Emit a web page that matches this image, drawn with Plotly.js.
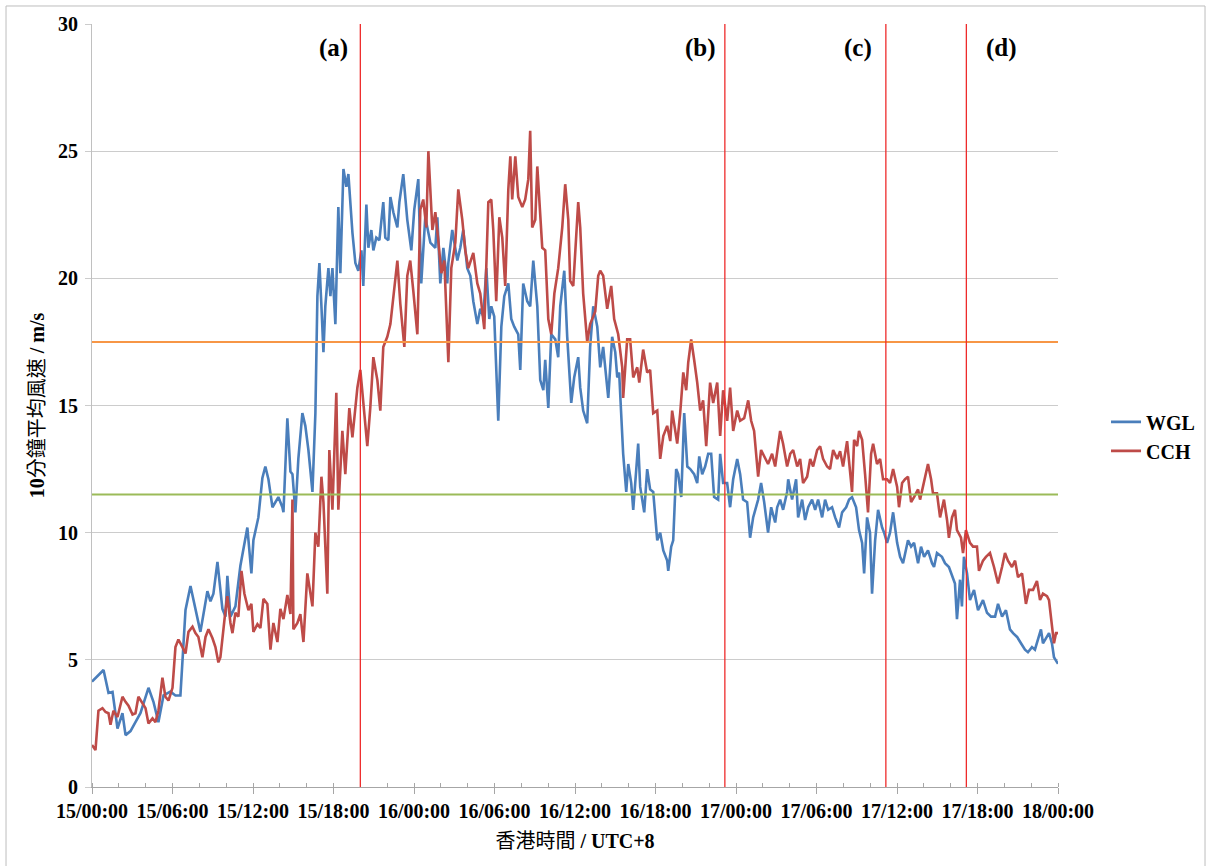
<!DOCTYPE html>
<html>
<head>
<meta charset="utf-8">
<script src="https://cdn.plot.ly/plotly-3.0.1.min.js"></script>
<style>
html,body{margin:0;padding:0;background:#fff;}
#chart{width:1207px;height:866px;}
</style>
</head>
<body>
<div id="chart"></div>
<script>
// Hours since 15/00:00 (HKT) and 10-min mean wind speed (m/s)
const wglHours = [0,0.86,1.23,1.53,1.90,2.27,2.50,2.87,3.24,3.61,4.21,4.58,4.95,5.33,5.85,6.22,6.59,6.82,6.97,7.34,7.71,8.08,8.31,8.60,8.83,9.05,9.35,9.72,9.95,10.09,10.32,10.69,11.06,11.29,11.58,11.88,12.03,12.40,12.70,12.92,13.15,13.45,13.67,13.89,14.19,14.27,14.56,14.79,14.94,15.16,15.38,15.68,15.90,16.13,16.43,16.65,16.80,16.95,17.10,17.25,17.39,17.62,17.77,17.92,18.14,18.36,18.51,18.74,18.96,19.11,19.41,19.63,19.85,20.08,20.22,20.45,20.60,20.82,20.97,21.19,21.42,21.71,21.86,22.09,22.24,22.46,22.76,22.91,23.20,23.50,23.80,24.02,24.32,24.54,24.84,25.22,25.59,25.74,25.96,26.19,26.48,26.56,26.85,27.23,27.45,27.67,27.97,28.20,28.42,28.72,28.94,29.17,29.39,29.61,29.76,29.98,30.28,30.51,30.73,31.03,31.25,31.47,31.77,31.92,32.14,32.44,32.66,32.89,33.19,33.41,33.64,33.78,34.01,34.23,34.53,34.75,34.90,35.20,35.42,35.72,35.94,36.24,36.39,36.61,36.91,37.13,37.36,37.66,37.88,38.10,38.48,38.77,39.00,39.15,39.29,39.59,39.82,39.97,40.19,40.34,40.71,40.86,41.16,41.38,41.60,41.83,42.13,42.35,42.58,42.87,42.95,43.17,43.32,43.54,43.69,43.92,44.14,44.37,44.59,44.88,45.11,45.26,45.48,45.70,45.93,46.15,46.37,46.67,46.82,47.04,47.34,47.56,47.79,48.09,48.31,48.53,48.83,49.05,49.28,49.65,49.87,50.10,50.39,50.62,50.92,51.07,51.29,51.51,51.81,51.89,52.18,52.48,52.63,52.93,53.15,53.38,53.67,53.90,54.12,54.42,54.64,54.87,55.16,55.39,55.68,55.91,56.21,56.43,56.65,56.95,57.17,57.40,57.55,57.77,57.99,58.14,58.37,58.59,58.89,59.04,59.26,59.48,59.71,60.01,60.23,60.45,60.82,61.05,61.27,61.57,61.79,62.02,62.31,62.61,62.76,62.98,63.35,63.58,63.87,64.17,64.32,64.47,64.70,64.84,64.99,65.22,65.44,65.74,66.04,66.41,66.71,67.01,67.31,67.53,67.83,68.12,68.42,68.65,68.95,69.24,69.54,69.76,70.06,70.28,70.51,70.73,70.88,71.18,71.33,71.55,71.70,71.93,72.00];
const wglSpeed = [4.14,4.6,3.7,3.74,2.3,2.9,2.04,2.2,2.55,2.9,3.9,3.35,2.55,3.6,3.75,3.6,3.6,5.5,6.96,7.9,7.0,6.1,6.8,7.7,7.3,7.6,8.85,7.0,6.7,8.3,6.7,7.1,8.7,9.4,10.2,8.4,9.7,10.6,12.15,12.6,12.1,11.0,11.2,11.4,11.0,10.8,14.5,12.4,12.3,10.8,12.9,14.7,14.2,13.25,11.6,14.7,19.3,20.6,18.9,17.1,18.9,20.4,19.3,20.4,18.2,22.8,20.2,24.3,23.6,24.1,21.8,20.6,20.3,21.1,19.7,22.9,21.2,21.9,21.1,21.6,21.5,23.0,21.6,21.5,23.2,22.6,22.0,23.0,24.1,22.3,21.1,22.7,23.9,19.8,22.4,21.4,21.2,22.4,19.8,21.2,19.8,20.6,21.9,20.7,21.2,21.9,20.4,20.1,19.1,18.2,18.8,18.5,20.4,18.4,18.9,18.5,14.4,18.1,19.3,19.8,18.4,18.1,17.8,16.4,19.8,19.1,18.9,20.7,18.9,16.0,15.6,16.8,14.9,17.8,17.6,16.9,18.9,20.3,17.7,15.1,16.1,16.9,15.7,14.8,14.3,17.3,18.9,18.1,16.5,17.3,15.3,17.7,17.1,16.1,16.3,13.1,11.6,12.7,11.95,10.9,13.5,11.8,10.8,12.5,11.7,11.6,9.7,10.0,9.3,8.9,8.5,9.45,9.7,12.5,12.3,11.4,14.7,12.6,12.5,12.3,11.95,13.0,12.3,12.6,13.1,13.1,11.4,11.3,13.1,11.95,11.95,11.0,12.1,12.9,12.3,11.3,11.2,9.8,10.6,11.3,11.95,11.2,10.0,11.0,10.4,11.0,11.3,10.9,11.6,12.1,11.3,12.1,10.6,11.3,10.5,11.0,11.3,10.9,11.3,10.6,11.3,10.9,11.0,10.6,10.2,10.8,11.0,11.3,11.4,11.0,10.1,9.6,8.4,10.6,10.0,7.6,9.7,10.9,10.2,10.0,9.6,10.0,10.8,9.6,9.05,8.8,9.7,9.45,9.6,8.8,9.45,9.05,9.3,8.8,8.65,9.2,9.05,8.8,8.65,8.25,8.0,6.6,8.15,7.1,9.05,8.4,7.35,7.75,6.95,7.35,6.85,6.7,6.7,7.2,6.7,6.95,6.2,6.05,5.9,5.65,5.4,5.3,5.5,5.4,5.8,6.2,5.65,5.9,6.05,5.65,5.1,4.9,4.85];

const cchHours = [0,0.26,0.48,0.78,1.01,1.23,1.38,1.60,1.90,2.27,2.50,2.72,3.02,3.24,3.46,3.76,3.99,4.21,4.51,4.73,4.95,5.25,5.47,5.70,6.00,6.22,6.44,6.74,6.97,7.19,7.49,7.71,7.93,8.23,8.46,8.68,8.98,9.20,9.42,9.57,9.72,9.95,10.09,10.32,10.47,10.69,10.91,11.14,11.36,11.66,11.88,12.03,12.33,12.55,12.78,13.07,13.30,13.52,13.82,14.04,14.27,14.56,14.79,14.94,15.01,15.31,15.53,15.76,16.05,16.43,16.65,16.87,17.10,17.25,17.54,17.69,17.92,18.21,18.36,18.66,18.88,19.18,19.41,19.78,20.00,20.22,20.52,20.74,20.97,21.27,21.49,21.71,22.01,22.24,22.46,22.76,22.98,23.28,23.50,23.72,23.95,24.25,24.47,24.69,24.92,25.07,25.37,25.59,25.81,26.04,26.26,26.56,26.78,27.08,27.30,27.60,27.82,28.05,28.42,28.72,28.94,29.24,29.54,29.76,29.91,30.13,30.36,30.58,30.80,31.03,31.18,31.32,31.55,31.77,32.07,32.29,32.52,32.66,32.81,33.04,33.19,33.41,33.56,33.78,34.01,34.23,34.46,34.75,35.05,35.27,35.50,35.64,35.87,36.24,36.39,36.61,36.91,37.13,37.51,37.73,37.88,38.10,38.40,38.70,38.92,39.22,39.52,39.59,39.89,40.11,40.34,40.64,40.79,41.08,41.38,41.60,41.83,42.13,42.35,42.58,42.87,43.10,43.24,43.62,43.84,44.07,44.29,44.44,44.66,44.88,45.11,45.33,45.55,45.78,46.07,46.30,46.60,46.82,47.04,47.34,47.56,47.79,48.09,48.31,48.61,48.91,49.13,49.35,49.65,49.87,50.17,50.39,50.69,50.92,51.29,51.51,51.81,52.04,52.26,52.56,52.78,53.00,53.30,53.53,53.75,54.05,54.27,54.49,54.79,55.01,55.24,55.54,55.76,55.98,56.28,56.50,56.65,56.80,57.03,57.17,57.40,57.62,57.84,58.07,58.22,58.51,58.74,58.96,59.26,59.48,59.71,60.01,60.15,60.38,60.60,60.82,61.05,61.27,61.57,61.72,61.94,62.31,62.54,62.68,62.98,63.21,63.50,63.73,63.87,64.10,64.32,64.47,64.77,64.92,65.14,65.44,65.67,65.96,66.11,66.41,66.63,66.93,67.23,67.53,67.83,68.05,68.27,68.57,68.80,69.02,69.32,69.61,69.84,70.14,70.43,70.66,70.88,71.18,71.33,71.55,71.70,71.85,72.00];
const cchSpeed = [1.65,1.45,3.0,3.1,2.95,2.9,2.45,3.0,2.75,3.55,3.35,3.2,2.85,2.9,3.55,3.3,3.1,2.5,2.7,2.55,3.0,4.3,3.55,3.4,3.9,5.5,5.8,5.5,5.25,6.1,6.3,6.05,5.9,5.1,5.9,6.2,5.85,5.5,4.9,5.1,5.9,6.95,7.5,6.45,6.05,6.85,6.7,8.5,7.6,6.95,7.2,6.1,6.4,6.25,7.4,7.2,5.4,6.45,5.7,7.0,6.6,7.55,6.8,11.3,6.2,6.45,6.8,5.7,8.4,7.1,10.0,9.45,12.2,11.2,7.6,13.25,10.9,15.5,10.9,14.0,12.3,14.9,13.75,15.7,16.4,15.1,13.4,14.9,16.9,16.0,14.8,17.3,17.7,18.2,19.3,20.7,19.0,17.3,20.1,20.7,19.5,17.8,22.7,23.1,22.0,25.0,21.9,22.6,21.5,20.2,20.7,16.7,20.4,21.4,23.5,22.3,21.1,20.4,21.0,19.8,19.4,18.0,23.0,23.1,21.9,19.1,22.4,21.6,19.7,23.5,24.8,23.1,24.8,23.2,22.8,23.1,23.9,25.8,22.0,22.3,24.4,22.6,21.2,21.1,18.4,17.8,19.4,20.4,22.0,23.7,22.3,19.9,19.7,23.0,22.0,19.4,17.5,18.2,18.7,20.1,20.3,20.1,18.8,19.7,18.4,17.8,16.5,15.3,17.6,17.6,16.1,16.5,15.9,17.2,16.3,16.4,14.7,14.8,12.9,13.8,14.2,13.6,14.8,13.5,14.7,16.3,15.6,16.7,17.6,16.8,15.9,14.8,15.2,13.4,15.9,15.1,15.9,13.8,15.6,14.4,15.7,14.0,14.8,14.4,14.5,15.2,14.4,14.0,12.2,13.25,12.9,12.7,13.1,12.6,14.0,13.5,12.6,13.1,13.25,12.6,12.9,11.95,12.2,12.9,12.6,13.25,13.4,12.9,12.6,12.5,13.25,12.9,13.2,12.6,13.6,12.2,11.6,13.65,13.4,14.0,13.65,12.3,10.8,13.1,13.5,12.7,12.9,12.1,12.1,11.95,12.5,11.8,11.0,11.95,12.1,12.2,11.2,11.4,11.7,11.3,11.8,12.7,12.1,11.55,11.55,10.6,11.3,10.5,9.8,10.6,10.9,10.1,9.8,9.2,10.1,9.6,9.45,9.45,8.5,8.9,9.05,9.2,8.65,8.0,8.65,9.2,8.9,8.65,8.9,8.25,8.4,7.2,7.75,7.75,8.1,7.35,7.6,7.5,7.35,6.45,5.65,6.05,6.05];

const seriesNames = ['WGL', 'CCH'];
const tickHours = [0, 6, 12, 18, 24, 30, 36, 42, 48, 54, 60, 66, 72];
const tickLabels = ['15/00:00','15/06:00','15/12:00','15/18:00','16/00:00','16/06:00','16/12:00','16/18:00','17/00:00','17/06:00','17/12:00','17/18:00','18/00:00'];
const yTicks = [0, 5, 10, 15, 20, 25, 30];
const thresholdSpeeds = [17.5, 11.5];
const eventHours = [20.0, 47.17, 59.17, 65.17];
const eventLabels = ['(a)', '(b)', '(c)', '(d)'];

const SERIF = '"Liberation Serif", "Times New Roman", "Noto Sans CJK TC", serif';
const seriesColors = ['#4a7ebb', '#be4b48'];
const thresholdColors = ['#f79646', '#9bbb59'];
const labelShift = [-2.0, -1.85, -2.05, 2.65];

const traces = [
  {x: wglHours, y: wglSpeed, name: seriesNames[0], type: 'scatter', mode: 'lines',
   line: {color: seriesColors[0], width: 2.6}},
  {x: cchHours, y: cchSpeed, name: seriesNames[1], type: 'scatter', mode: 'lines',
   line: {color: seriesColors[1], width: 2.6}}
];

const shapes = [];
thresholdSpeeds.forEach((v, i) => shapes.push({
  type: 'line', xref: 'paper', yref: 'y', x0: 0, x1: 1, y0: v, y1: v,
  line: {color: thresholdColors[i], width: 2}, layer: 'above'
}));
eventHours.forEach(h => shapes.push({
  type: 'line', xref: 'x', yref: 'paper', x0: h, x1: h, y0: 0, y1: 1,
  line: {color: '#ee2b2b', width: 1.3}, layer: 'above'
}));
// outer chart border
shapes.push({type: 'rect', xref: 'paper', yref: 'paper',
  x0: -0.089, x1: 1.1522, y0: -0.11, y1: 1.0236,
  line: {color: '#bdbdbd', width: 1}, layer: 'below'});

const annotations = eventHours.map((h, i) => ({
  x: h + labelShift[i], y: 0.968, xref: 'x', yref: 'paper',
  xanchor: 'center', yanchor: 'middle',
  text: eventLabels[i], showarrow: false,
  font: {family: SERIF, size: 25, color: '#000', weight: 'bold'}
}));

const layout = {
  width: 1207, height: 866,
  margin: {l: 92, r: 149, t: 24, b: 79, pad: 0, autoexpand: false},
  paper_bgcolor: '#ffffff', plot_bgcolor: '#ffffff',
  showlegend: true,
  legend: {x: 1.0497, xanchor: 'left', y: 0.4596, yanchor: 'middle',
    font: {family: SERIF, size: 20, color: '#000', weight: 'bold'},
    bgcolor: 'rgba(0,0,0,0)', borderwidth: 0},
  xaxis: {
    range: [0, 72], tickmode: 'array', tickvals: tickHours, ticktext: tickLabels,
    ticks: 'outside', ticklen: 6, tickcolor: '#a6a6a6', tickwidth: 1,
    minor: {dtick: 2, tick0: 0, ticks: 'inside', ticklen: 4, tickcolor: '#a6a6a6', showgrid: false},
    showgrid: false, zeroline: false, showline: true, linecolor: '#a6a6a6', linewidth: 1,
    tickfont: {family: SERIF, size: 20, color: '#000', weight: 'bold'},
    title: {text: '香港時間<b> / UTC+8</b>', standoff: 12,
      font: {family: SERIF, size: 20, color: '#000'}}
  },
  yaxis: {
    range: [0, 30], tickmode: 'array', tickvals: yTicks,
    ticks: 'outside', ticklen: 6, tickcolor: '#cccccc', tickwidth: 1,
    ticklabelstandoff: 3,
    showgrid: true, gridcolor: '#cccccc', gridwidth: 1,
    zeroline: false, showline: true, linecolor: '#c0c0c0', linewidth: 1,
    tickfont: {family: SERIF, size: 20, color: '#000', weight: 'bold'},
    title: {text: '<b>10</b>分鐘平均風速<b> / m/s</b>', standoff: 8,
      font: {family: SERIF, size: 20, color: '#000'}}
  },
  shapes: shapes,
  annotations: annotations
};

Plotly.newPlot('chart', traces, layout, {displayModeBar: false, staticPlot: true});
</script>
</body>
</html>
